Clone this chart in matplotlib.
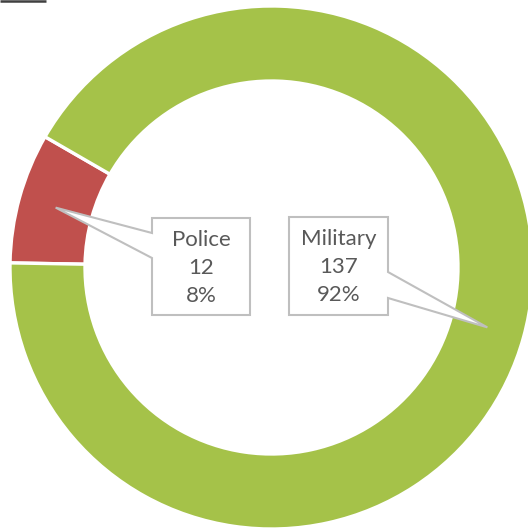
import numpy as np
import matplotlib.pyplot as plt
from matplotlib.patches import Polygon

labels = ['Police', 'Military']
counts = [12, 137]
colors = ['#C0504D', '#A5C249']

W = H = 528
fig = plt.figure(figsize=(W / 100, H / 100), dpi=100)
ax = fig.add_axes([0, 0, 1, 1])
ax.set_aspect('equal')

cx, cy = 271.5, H - 267.5
r_out, ring = 261.5, 75

wedges, _ = ax.pie(counts, colors=colors, startangle=150, counterclock=True,
                   center=(cx, cy), radius=r_out, frame=True,
                   wedgeprops=dict(width=ring, edgecolor='white', linewidth=2.4))
ax.set_xlim(0, W)
ax.set_ylim(0, H)
ax.axis('off')

total = sum(counts)
pct = [round(c / total * 100) for c in counts]


def tip(w):
    a = np.deg2rad((w.theta1 + w.theta2) / 2)
    r = r_out - ring / 2
    return cx + r * np.cos(a), cy + r * np.sin(a)


# callout boxes (x0, x1, y0, y1) and pointer base on one side
boxes = [(152, 250, 213, 310), (289, 388, 213, 311)]
bases = [(270, 295), (230, 256)]

for i, w in enumerate(wedges):
    x0, x1, y0, y1 = boxes[i]
    b0, b1 = bases[i]
    tx, ty = tip(w)
    if i == 0:
        pts = [(x0, y1), (x1, y1), (x1, y0), (x0, y0), (x0, b0), (tx, ty), (x0, b1)]
    else:
        pts = [(x0, y1), (x1, y1), (x1, b1), (tx, ty), (x1, b0), (x1, y0), (x0, y0)]
    ax.add_patch(Polygon(pts, closed=True, facecolor='white', edgecolor='#BFBFBF',
                         linewidth=1.5, zorder=5))
    ax.text((x0 + x1) / 2, (y0 + y1) / 2 - 1, f'{labels[i]}\n{counts[i]}\n{pct[i]}%',
            ha='center', va='center', fontsize=16, color='#595959',
            family='Lato', linespacing=1.5, zorder=6)

# cropped title remnant at top left
ax.plot([0, 46], [H - 1, H - 1], color='#404040', linewidth=1.8, solid_capstyle='butt')

fig.savefig('out.png', dpi=100)
